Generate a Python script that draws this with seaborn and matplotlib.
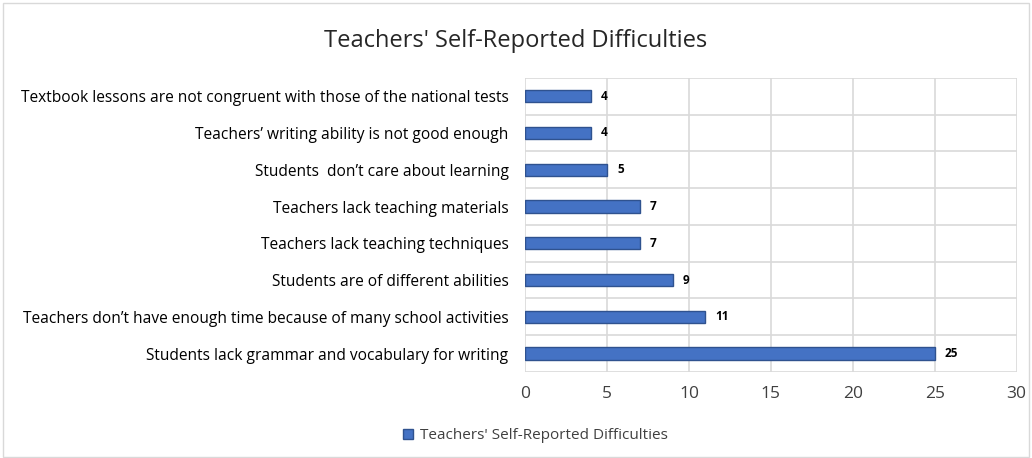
import matplotlib
matplotlib.use('Agg')

import matplotlib.pyplot as plt
import pandas as pd
import seaborn as sns
from matplotlib.patches import Rectangle

categories = [
    "Textbook lessons are not congruent with those of the national tests",
    "Teachers\u2019 writing ability is not good enough",
    "Students  don\u2019t care about learning",
    "Teachers lack teaching materials",
    "Teachers lack teaching techniques",
    "Students are of different abilities",
    "Teachers don\u2019t have enough time because of many school activities",
    "Students lack grammar and vocabulary for writing",
]
counts = [4, 4, 5, 7, 7, 9, 11, 25]
series_name = "Teachers' Self-Reported Difficulties"
x_ticks = [0, 5, 10, 15, 20, 25, 30]

df = pd.DataFrame({"category": categories, "count": counts})

sns.set_style("white")
plt.rcParams['font.family'] = ['Open Sans', 'DejaVu Sans']

fig = plt.figure(figsize=(10.32, 4.58), dpi=100)
fig.patches.append(Rectangle((0.003, 0.003), 0.994, 0.99, transform=fig.transFigure,
                             fill=False, edgecolor='#d9d9d9', linewidth=1))
ax = fig.add_axes([0.509, 0.188, 0.476, 0.642])

sns.barplot(data=df, y="category", x="count", orient="h", ax=ax,
            color="#4472C4", edgecolor="#2F528F", linewidth=1, width=0.33,
            saturation=1, label=series_name)

ax.set_xlim(0, 30)
ax.set_xticks(x_ticks)
ax.set_ylim(len(categories) - 0.5, -0.5)
ax.set_xlabel("")
ax.set_ylabel("")

# gridlines: vertical at ticks, horizontal between categories
for t in x_ticks:
    ax.axvline(t, color="#d9d9d9", linewidth=1.2, zorder=0)
for i in range(len(categories) + 1):
    ax.axhline(i - 0.5, color="#d9d9d9", linewidth=1.2, zorder=0)
for s in ax.spines.values():
    s.set_visible(False)

ax.tick_params(axis='both', length=0, colors="#404040")
ax.tick_params(axis='y', labelsize=11.2, pad=12)
ax.tick_params(axis='x', labelsize=12.5, pad=10)
for lbl in ax.get_yticklabels():
    lbl.set_color("#000000")

for i, v in enumerate(counts):
    ax.text(v + 0.6, i, str(v), va='center', ha='left', fontsize=8.5,
            fontweight='bold', color='black')

fig.suptitle(series_name, y=0.937, fontsize=17, color="#262626")

ax.legend(loc='upper center', bbox_to_anchor=(0.02, -0.145), frameon=False,
          fontsize=11, handlelength=0.7, handleheight=0.7, handletextpad=0.4,
          labelcolor="#404040")

fig.savefig("out.png", dpi=100)
